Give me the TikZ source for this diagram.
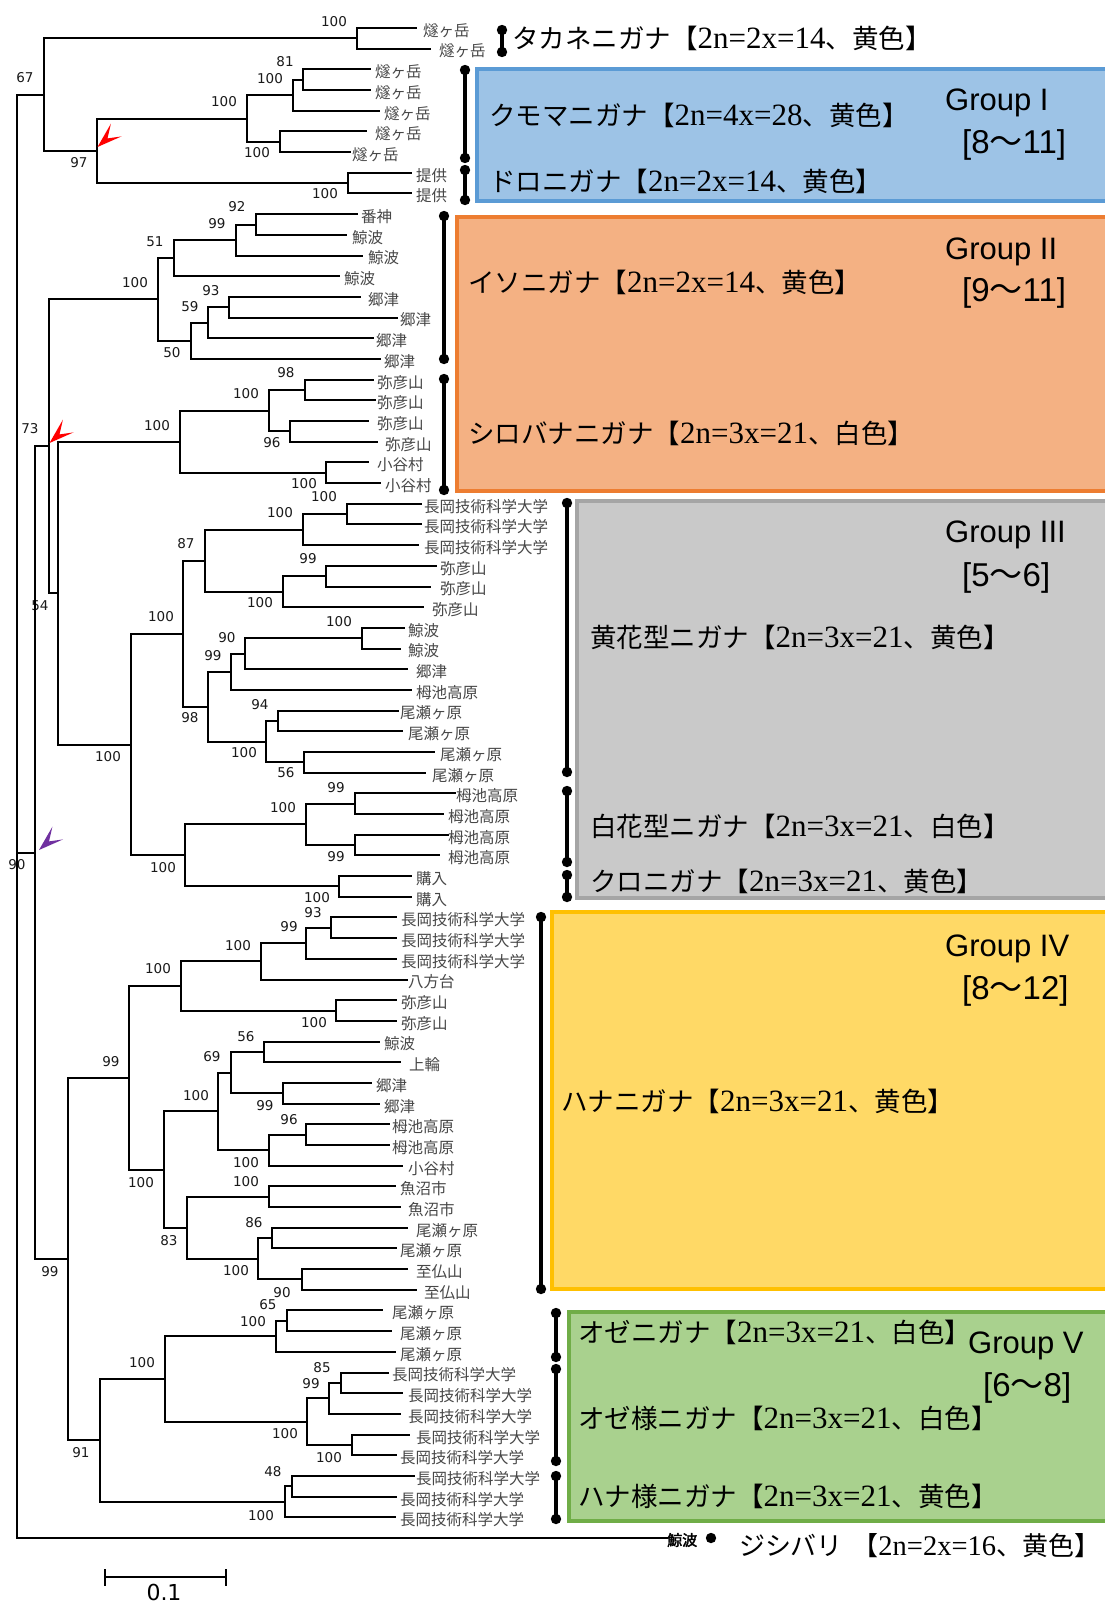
\documentclass[tikz,border=0pt]{standalone}
\usepackage{fontspec}
\newfontfamily\jp{Noto Sans CJK JP}
\newfontfamily\jpb[FakeBold=2.5]{Noto Sans CJK JP}
\newfontfamily\ser{Liberation Serif}
\newfontfamily\dv{DejaVu Sans}
\newfontfamily\ar{Liberation Sans}
\definecolor{bfill}{HTML}{9DC3E6}\definecolor{bline}{HTML}{5B9BD5}
\definecolor{ofill}{HTML}{F4B183}\definecolor{oline}{HTML}{ED7D31}
\definecolor{gfill}{HTML}{C9C9C9}\definecolor{gline}{HTML}{A5A5A5}
\definecolor{yfill}{HTML}{FFD966}\definecolor{yline}{HTML}{FFC000}
\definecolor{vfill}{HTML}{A9D18E}\definecolor{vline}{HTML}{70AD47}
\definecolor{purp}{HTML}{7030A0}
\pgfmathdeclarefunction{leafy}{1}{\pgfmathparse{28+(#1-1)*20.685}}
\newcommand\bootfont{\dv\fontsize{13.5}{14}\selectfont}
\newcommand\leaffont{\jp\fontsize{15.5}{16}\selectfont}
\newcommand\Spc[3]{{\jp\fontsize{26.5}{28}\selectfont #1【}{\ser\fontsize{31}{32}\selectfont #2}{\jp\fontsize{26.5}{28}\selectfont 、#3】}}
\newcommand\SpcS[3]{{\jp\fontsize{26}{28}\selectfont #1【}{\ser\fontsize{28.5}{30}\selectfont #2}{\jp\fontsize{26}{28}\selectfont 、#3】}}
\newcommand\GrpA[1]{{\ar\fontsize{31}{34}\selectfont #1}}
\newcommand\GrpB[3]{{\ar\fontsize{33}{34}\selectfont [#1}{\jp\fontsize{33}{34}\selectfont 〜}{\ar\fontsize{33}{34}\selectfont #2]}}
\tikzset{
  br/.style={line width=2pt, line cap=rect},
  boot/.style={font=\bootfont, inner sep=0pt, text=black!90},
  leaf/.style={font=\leaffont, inner sep=0pt, anchor=west, text=black!72},
  spc/.style={inner sep=0pt, anchor=west},
  grp/.style={inner sep=0pt, anchor=west},
  brk/.style={line width=3.6pt},
  gbox/.style={line width=3.5pt},
}
\newcommand\Y[1]{\csname ty@#1\endcsname}
% clade: name, parent x, x, top child y, bottom child y, bootstrap, label x, label y
\newcommand\CL[8]{%
  \pgfmathsetmacro\tmpy{((#4)+(#5))/2}%
  \expandafter\xdef\csname ty@#1\endcsname{\tmpy}%
  \draw[br] (#3,{#4}) -- (#3,{#5});
  \draw[br] (#2,\tmpy) -- (#3,\tmpy);
  \node[boot] (b#1) at (#7,#8) {#6};
}
% leaf: index, parent x, line end x, label x, text
\newcommand\LF[5]{%
  \draw[br] (#2,{leafy(#1)}) -- (#3,{leafy(#1)});
  \node[leaf] (lf#1) at (#4,{leafy(#1)+2.5}) {#5};
}
\newcommand\Brk[4]{%
  \draw[brk] (#1,#2) coordinate (#4a) -- (#1,#3) coordinate (#4b);
  \fill (#4a) circle (5.2); \fill (#4b) circle (5.2);
}
\newcommand\Mark[2]{%
  \fill[#1,shift={(#2)}] (0,0) -- (13.4,-23.3) -- (10,-8.6) -- (24,-10.6) -- cycle;
}
\begin{document}
\begin{tikzpicture}[x=1pt,y=-1pt]
\useasboundingbox (0,0) rectangle (1105,1604);
\clip (0,0) rectangle (1105,1604);
\fill[white] (0,0) rectangle (1105,1604);

% ---------- coloured group boxes ----------
\draw[gbox, draw=bline, fill=bfill] (477,69) rectangle (1120,201);
\draw[gbox, draw=oline, fill=ofill] (457,217) rectangle (1120,491);
\draw[gbox, draw=gline, fill=gfill] (577,501) rectangle (1120,898);
\draw[gbox, draw=yline, fill=yfill] (552,912) rectangle (1120,1289);
\draw[gbox, draw=vline, fill=vfill] (569,1312) rectangle (1120,1521);

% ---------- tree : clade A ----------
\CL{A2111}{293}{303}{leafy(3)}{leafy(4)}{81}{285}{62}
\LF{3}{303}{370}{375}{燧ヶ岳}
\LF{4}{303}{370}{375}{燧ヶ岳}
\CL{A211}{247}{293}{\Y{A2111}}{leafy(5)}{100}{270}{79}
\LF{5}{293}{379}{384}{燧ヶ岳}
\CL{A212}{247}{280}{leafy(6)}{leafy(7)}{100}{257}{153}
\LF{6}{280}{366}{375}{燧ヶ岳}
\LF{7}{280}{350}{352}{燧ヶ岳}
\CL{A21}{97}{247}{\Y{A211}}{\Y{A212}}{100}{224}{102}
\CL{A22}{97}{348}{leafy(8)}{leafy(9)}{100}{325}{194}
\LF{8}{348}{411}{416}{提供}
\LF{9}{348}{411}{416}{提供}
\CL{A2}{43.6}{97}{\Y{A21}}{\Y{A22}}{97}{79}{163}
\CL{A1}{43.6}{357}{leafy(1)}{leafy(2)}{100}{334}{22}
\LF{1}{357}{416}{423}{燧ヶ岳}
\LF{2}{357}{430}{439}{燧ヶ岳}
\CL{A}{17}{43.6}{\Y{A1}}{\Y{A2}}{67}{25}{78}

% ---------- clade C ----------
\CL{C1111}{236}{256}{leafy(10)}{leafy(11)}{92}{237}{207}
\LF{10}{256}{357}{361}{番神}
\LF{11}{256}{346}{352}{鯨波}
\CL{C111}{174}{236}{\Y{C1111}}{leafy(12)}{99}{217}{224}
\LF{12}{236}{362}{368}{鯨波}
\CL{C11}{158}{174}{\Y{C111}}{leafy(13)}{51}{155}{242}
\LF{13}{174}{339}{344}{鯨波}
\CL{C1211}{208}{229}{leafy(14)}{leafy(15)}{93}{211}{291}
\LF{14}{229}{360}{368}{郷津}
\LF{15}{229}{397}{400}{郷津}
\CL{C121}{191}{208}{\Y{C1211}}{leafy(16)}{59}{190}{307}
\LF{16}{208}{373}{376}{郷津}
\CL{C12}{158}{191}{\Y{C121}}{leafy(17)}{50}{172}{353}
\LF{17}{191}{380}{384}{郷津}
\CL{C1}{48.6}{158}{\Y{C11}}{\Y{C12}}{100}{135}{283}

\CL{C2111}{269}{305}{leafy(18)}{leafy(19)}{98}{286}{373}
\LF{18}{305}{373}{377}{弥彦山}
\LF{19}{305}{375}{377}{弥彦山}
\CL{C2112}{269}{290}{leafy(20)}{leafy(21)}{96}{272}{443}
\LF{20}{290}{368}{377}{弥彦山}
\LF{21}{290}{377}{385}{弥彦山}
\CL{C211}{180}{269}{\Y{C2111}}{\Y{C2112}}{100}{246}{394}
\CL{C212}{180}{326}{leafy(22)}{leafy(23)}{100}{304}{484}
\LF{22}{326}{368}{377}{小谷村}
\LF{23}{326}{380}{385}{小谷村}
\CL{C21}{58}{180}{\Y{C211}}{\Y{C212}}{100}{157}{426}

\CL{E11}{303}{347}{leafy(24)}{leafy(25)}{100}{324}{497}
\LF{24}{347}{421}{424}{長岡技術科学大学}
\LF{25}{347}{421}{424}{長岡技術科学大学}
\CL{E1}{205}{303}{\Y{E11}}{leafy(26)}{100}{280}{513}
\LF{26}{303}{418}{424}{長岡技術科学大学}
\CL{E21}{283}{326}{leafy(27)}{leafy(28)}{99}{308}{559}
\LF{27}{326}{436}{440}{弥彦山}
\LF{28}{326}{430}{440}{弥彦山}
\CL{E2}{205}{283}{\Y{E21}}{leafy(29)}{100}{260}{603}
\LF{29}{283}{423}{432}{弥彦山}
\CL{C2211}{183}{205}{\Y{E1}}{\Y{E2}}{87}{186}{544}

\CL{F111}{245}{362}{leafy(30)}{leafy(31)}{100}{339}{622}
\LF{30}{362}{404}{408}{鯨波}
\LF{31}{362}{400}{408}{鯨波}
\CL{F11}{231}{245}{\Y{F111}}{leafy(32)}{90}{227}{638}
\LF{32}{245}{407}{416}{郷津}
\CL{F1}{208}{231}{\Y{F11}}{leafy(33)}{99}{213}{656}
\LF{33}{231}{411}{416}{栂池高原}
\CL{F21}{266}{278}{leafy(34)}{leafy(35)}{94}{260}{705}
\LF{34}{278}{398}{400}{尾瀬ヶ原}
\LF{35}{278}{402}{408}{尾瀬ヶ原}
\CL{F22}{266}{304}{leafy(36)}{leafy(37)}{56}{286}{773}
\LF{36}{304}{434}{440}{尾瀬ヶ原}
\LF{37}{304}{425}{432}{尾瀬ヶ原}
\CL{F2}{208}{266}{\Y{F21}}{\Y{F22}}{100}{244}{753}
\CL{C2212}{183}{208}{\Y{F1}}{\Y{F2}}{98}{190}{718}
\CL{C221}{131}{183}{\Y{C2211}}{\Y{C2212}}{100}{161}{617}

\CL{G11}{306}{355}{leafy(38)}{leafy(39)}{99}{336}{788}
\LF{38}{355}{455}{456}{栂池高原}
\LF{39}{355}{443}{448}{栂池高原}
\CL{G12}{306}{355}{leafy(40)}{leafy(41)}{99}{336}{857}
\LF{40}{355}{448}{448}{栂池高原}
\LF{41}{355}{439}{448}{栂池高原}
\CL{G1}{185}{306}{\Y{G11}}{\Y{G12}}{100}{283}{808}
\CL{G2}{185}{339}{leafy(42)}{leafy(43)}{100}{317}{898}
\LF{42}{339}{411}{416}{購入}
\LF{43}{339}{411}{416}{購入}
\CL{C222}{131}{185}{\Y{G1}}{\Y{G2}}{100}{163}{868}
\CL{C22}{58}{131}{\Y{C221}}{\Y{C222}}{100}{108}{757}
\CL{C2}{48.6}{58}{\Y{C21}}{\Y{C22}}{54}{40}{606}
\CL{C}{35}{48.6}{\Y{C1}}{\Y{C2}}{73}{30}{429}

% ---------- clade H ----------
\CL{H1111}{306}{331}{leafy(44)}{leafy(45)}{93}{313}{913}
\LF{44}{331}{396}{401}{長岡技術科学大学}
\LF{45}{331}{396}{401}{長岡技術科学大学}
\CL{H111}{261}{306}{\Y{H1111}}{leafy(46)}{99}{289}{927}
\LF{46}{306}{396}{401}{長岡技術科学大学}
\CL{H11}{181}{261}{\Y{H111}}{leafy(47)}{100}{238}{946}
\LF{47}{261}{407}{408}{八方台}
\CL{H12}{181}{336}{leafy(48)}{leafy(49)}{100}{314}{1023}
\LF{48}{336}{396}{401}{弥彦山}
\LF{49}{336}{396}{401}{弥彦山}
\CL{H1}{129}{181}{\Y{H11}}{\Y{H12}}{100}{158}{969}
\CL{H2111}{231}{264}{leafy(50)}{leafy(51)}{56}{246}{1037}
\LF{50}{264}{379}{384}{鯨波}
\LF{51}{264}{400}{409}{上輪}
\CL{H2112}{231}{283}{leafy(52)}{leafy(53)}{99}{265}{1106}
\LF{52}{283}{371}{376}{郷津}
\LF{53}{283}{379}{384}{郷津}
\CL{H211}{218}{231}{\Y{H2111}}{\Y{H2112}}{69}{212}{1057}
\CL{H2121}{269}{306}{leafy(54)}{leafy(55)}{96}{289}{1120}
\LF{54}{306}{389}{392}{栂池高原}
\LF{55}{306}{389}{392}{栂池高原}
\CL{H212}{218}{269}{\Y{H2121}}{leafy(56)}{100}{246}{1163}
\LF{56}{269}{402}{408}{小谷村}
\CL{H21}{164}{218}{\Y{H211}}{\Y{H212}}{100}{196}{1096}
\CL{H221}{187}{269}{leafy(57)}{leafy(58)}{100}{246}{1182}
\LF{57}{269}{395}{400}{魚沼市}
\LF{58}{269}{400}{408}{魚沼市}
\CL{H2221}{258}{272}{leafy(59)}{leafy(60)}{86}{254}{1223}
\LF{59}{272}{407}{416}{尾瀬ヶ原}
\LF{60}{272}{396}{400}{尾瀬ヶ原}
\CL{H2222}{258}{302}{leafy(61)}{leafy(62)}{90}{282}{1293}
\LF{61}{302}{407}{416}{至仏山}
\LF{62}{302}{416}{424}{至仏山}
\CL{H222}{187}{258}{\Y{H2221}}{\Y{H2222}}{100}{236}{1271}
\CL{H22}{164}{187}{\Y{H221}}{\Y{H222}}{83}{169}{1241}
\CL{H2}{129}{164}{\Y{H21}}{\Y{H22}}{100}{141}{1183}
\CL{H}{68}{129}{\Y{H1}}{\Y{H2}}{99}{111}{1062}

% ---------- clade I ----------
\CL{I111}{276}{287}{leafy(63)}{leafy(64)}{65}{268}{1305}
\LF{63}{287}{382}{392}{尾瀬ヶ原}
\LF{64}{287}{391}{400}{尾瀬ヶ原}
\CL{I11}{165}{276}{\Y{I111}}{leafy(65)}{100}{253}{1322}
\LF{65}{276}{395}{400}{尾瀬ヶ原}
\CL{I1211}{329}{341}{leafy(66)}{leafy(67)}{85}{322}{1368}
\LF{66}{341}{388}{392}{長岡技術科学大学}
\LF{67}{341}{402}{408}{長岡技術科学大学}
\CL{I121}{307}{329}{\Y{I1211}}{leafy(68)}{99}{311}{1384}
\LF{68}{329}{400}{408}{長岡技術科学大学}
\CL{I122}{307}{352}{leafy(69)}{leafy(70)}{100}{329}{1458}
\LF{69}{352}{409}{416}{長岡技術科学大学}
\LF{70}{352}{396}{400}{長岡技術科学大学}
\CL{I12}{165}{307}{\Y{I121}}{\Y{I122}}{100}{285}{1434}
\CL{I1}{100}{165}{\Y{I11}}{\Y{I12}}{100}{142}{1363}
\CL{I21}{285}{292}{leafy(71)}{leafy(72)}{48}{273}{1472}
\LF{71}{292}{414}{416}{長岡技術科学大学}
\LF{72}{292}{396}{400}{長岡技術科学大学}
\CL{I2}{100}{285}{\Y{I21}}{leafy(73)}{100}{261}{1516}
\LF{73}{285}{395}{400}{長岡技術科学大学}
\CL{I}{68}{100}{\Y{I1}}{\Y{I2}}{91}{81}{1453}
\CL{D}{35}{68}{\Y{H}}{\Y{I}}{99}{50}{1272}
\CL{B}{17}{35}{\Y{C}}{\Y{D}}{90}{17}{865}

% root and outgroup
\draw[br] (17,\Y{A}) -- (17,{leafy(74)});
\draw[br] (17,{leafy(74)}) -- (667,{leafy(74)});
\node[inner sep=0pt, anchor=west, font=\jpb\fontsize{15}{16}\selectfont] (lf74) at (667,{leafy(74)+2}) {鯨波};
\fill (711,1538) circle (5.2) coordinate (og);

% arrow marks
\Mark{red}{97.5,147}
\Mark{red}{49.5,443}
\Mark{purp}{39,850}

% ---------- brackets ----------
\Brk{502}{30}{52}{k1}
\Brk{465}{70}{158}{k2}
\Brk{465}{170}{200}{k3}
\Brk{444}{216}{359}{k4}
\Brk{444}{379}{490}{k5}
\Brk{567}{503}{772}{k6}
\Brk{567}{791}{862}{k7}
\Brk{567}{875}{897}{k8}
\Brk{541}{917}{1289}{k9}
\Brk{556}{1313}{1357}{k10}
\Brk{556}{1369}{1461}{k11}
\Brk{556}{1476}{1519}{k12}

% ---------- species labels ----------
\node[spc] (s1) at (512,38) {\Spc{タカネニガナ}{2n=2x=14}{黄色}};
\node[spc] (s2) at (489,115) {\Spc{クモマニガナ}{2n=4x=28}{黄色}};
\node[spc] (s3) at (489,181) {\Spc{ドロニガナ}{2n=2x=14}{黄色}};
\node[spc] (s4) at (468,282) {\Spc{イソニガナ}{2n=2x=14}{黄色}};
\node[spc] (s5) at (468,433) {\Spc{シロバナニガナ}{2n=3x=21}{白色}};
\node[spc] (s6) at (590,637) {\Spc{黄花型ニガナ}{2n=3x=21}{黄色}};
\node[spc] (s7) at (590,826) {\Spc{白花型ニガナ}{2n=3x=21}{白色}};
\node[spc] (s8) at (590,881) {\Spc{クロニガナ}{2n=3x=21}{黄色}};
\node[spc] (s9) at (561,1101) {\Spc{ハナニガナ}{2n=3x=21}{黄色}};
\node[spc] (s10) at (578,1332) {\Spc{オゼニガナ}{2n=3x=21}{白色}};
\node[spc] (s11) at (578,1418) {\Spc{オゼ様ニガナ}{2n=3x=21}{白色}};
\node[spc] (s12) at (578,1496) {\Spc{ハナ様ニガナ}{2n=3x=21}{黄色}};
\node[spc] (s13) at (739,1546) {\SpcS{ジシバリ\hspace{10pt}}{2n=2x=16}{黄色}};

% ---------- group labels ----------
\node[grp] (g1) at (945,103) {\GrpA{Group I}};
\node[grp] (g1b) at (962,145) {\GrpB{8}{11}{}};
\node[grp] (g2) at (945,252) {\GrpA{Group II}};
\node[grp] (g2b) at (962,293) {\GrpB{9}{11}{}};
\node[grp] (g3) at (945,535) {\GrpA{Group III}};
\node[grp] (g3b) at (962,578) {\GrpB{5}{6}{}};
\node[grp] (g4) at (945,949) {\GrpA{Group IV}};
\node[grp] (g4b) at (962,991) {\GrpB{8}{12}{}};
\node[grp] (g5) at (968,1346) {\GrpA{Group V}};
\node[grp] (g5b) at (983,1388) {\GrpB{6}{8}{}};

% ---------- scale bar ----------
\draw[line width=2pt] (105,1577) coordinate (sb1) -- (226,1577) coordinate (sb2);
\draw[line width=2pt] (105,1569) -- (105,1586);
\draw[line width=2pt] (226,1569) -- (226,1586);
\node[inner sep=0pt, font=\dv\fontsize{22}{24}\selectfont] (sbl) at (164,1592) {0.1};
\end{tikzpicture}
\end{document}
